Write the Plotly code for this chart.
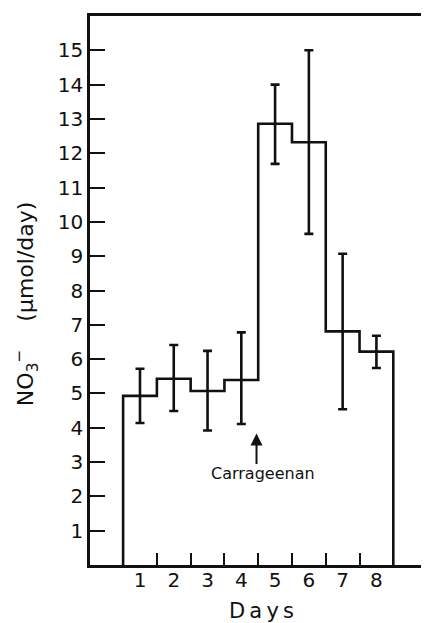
import plotly.graph_objects as go

days = [1, 2, 3, 4, 5, 6, 7, 8]
means = [4.93, 5.43, 5.07, 5.39, 12.86, 12.32, 6.81, 6.22]
upper = [5.72, 6.41, 6.24, 6.78, 14.0, 15.0, 9.07, 6.68]
lower = [4.14, 4.49, 3.92, 4.11, 11.69, 9.65, 4.54, 5.74]
y_ticks = list(range(1, 16))
x_labels = [str(d) for d in days]

FONT = "DejaVu Sans"
INK = "#111111"

# step outline built from bin edges
step_x = [days[0] - 0.5] + [d - 0.5 for d in days] + [days[-1] + 0.5, days[-1] + 0.5]
step_y = [0] + means + [means[-1], 0]

fig = go.Figure()
fig.add_trace(go.Scatter(
    x=step_x, y=step_y, mode="lines", line=dict(color=INK, width=2.6, shape="hv"),
    hoverinfo="skip", showlegend=False))
fig.add_trace(go.Scatter(
    x=days, y=means, mode="markers", marker=dict(size=1, color="rgba(0,0,0,0)"),
    error_y=dict(type="data", symmetric=False,
                 array=[u - m for u, m in zip(upper, means)],
                 arrayminus=[m - l for m, l in zip(means, lower)],
                 color=INK, thickness=2.6, width=4.5),
    showlegend=False))

# page body has an 8px margin, so the figure is drawn 8px smaller and offset
fig.update_layout(
    width=421, height=615,
    margin=dict(l=82, r=5, t=5, b=58),
    paper_bgcolor="white", plot_bgcolor="white",
    font=dict(family=FONT, color=INK, size=20),
    xaxis=dict(range=[-0.48, 9.32], tickvals=days, ticktext=x_labels, ticks="",
               showgrid=False, zeroline=False, showline=True, linecolor=INK, linewidth=2.6,
               mirror=True, tickfont=dict(size=20), ticklabelstandoff=-5,
               minor=dict(tick0=0.5, dtick=1, ticks="inside", ticklen=12, tickwidth=2.3,
                          tickcolor=INK, showgrid=False)),
    yaxis=dict(range=[0, 16], tickvals=y_ticks, ticks="inside", ticklen=15, tickwidth=2.3,
               tickcolor=INK, showgrid=False, zeroline=False, showline=True, linecolor=INK,
               linewidth=2.6, mirror=True, tickfont=dict(size=20)),
    annotations=[
        dict(text="NO<sub>3</sub><sup>−</sup>    (μmol/day)", xref="paper", yref="paper",
             x=-0.195, y=0.476, xanchor="center", yanchor="middle", textangle=-90,
             showarrow=False, font=dict(size=22)),
        dict(text="D\u2009a\u2009y\u2009s", xref="paper", yref="paper", x=0.518, y=-0.084,
             xanchor="center", yanchor="middle", showarrow=False, font=dict(size=21)),
        dict(text="", x=4.45, y=3.83, xref="x", yref="y", ax=4.45, ay=2.9, axref="x", ayref="y",
             showarrow=True, arrowhead=2, arrowsize=1.2, arrowwidth=2, arrowcolor=INK),
        dict(text="Carrageenan", x=4.65, y=2.67, xref="x", yref="y", showarrow=False,
             font=dict(size=16)),
    ],
)

fig.write_html("out.html")
